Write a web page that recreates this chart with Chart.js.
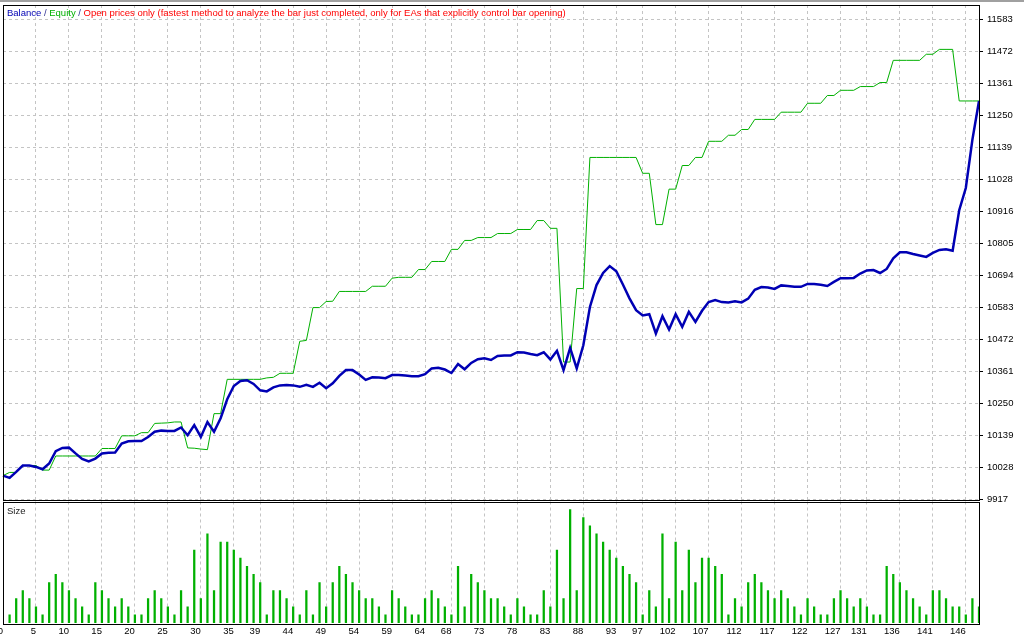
<!DOCTYPE html>
<html>
<head>
<meta charset="utf-8">
<script src="https://cdn.jsdelivr.net/npm/chart.js@4.4.1/dist/chart.umd.min.js"></script>
<style>
html,body{margin:0;padding:0;background:#fff;overflow:hidden}
#wrap{position:relative;width:1024px;height:640px}
#topbar{position:absolute;left:0;top:0;width:1024px;height:2px;background:#a0a0a0}
#main{position:absolute;left:0;top:0}
#size{position:absolute;left:0;top:495px}
</style>
</head>
<body>
<div id="wrap">
  <div id="topbar"></div>
  <canvas id="main" width="1024" height="510"></canvas>
  <canvas id="size" width="1024" height="145"></canvas>
</div>
<script>
// trade numbers on the x axis
const tradeNo = [0,1,2,3,4,5,6,7,8,9,10,11,12,13,14,15,16,17,18,19,20,21,22,23,24,25,26,27,28,29,30,31,32,33,34,35,36,37,38,39,40,41,42,43,44,45,46,47,48,49,50,51,52,53,54,55,56,57,58,59,60,61,62,63,64,65,66,67,68,69,70,71,72,73,74,75,76,77,78,79,80,81,82,83,84,85,86,87,88,89,90,91,92,93,94,95,96,97,98,99,100,101,102,103,104,105,106,107,108,109,110,111,112,113,114,115,116,117,118,119,120,121,122,123,124,125,126,127,128,129,130,131,132,133,134,135,136,137,138,139,140,141,142,143,144,145,146,147,148];

const balance = [
  10000, 9992, 10013, 10035, 10035, 10030, 10022, 10042, 10085, 10096,
  10097, 10077, 10058, 10049, 10059, 10077, 10079, 10080, 10111, 10119,
  10120, 10120, 10134, 10152, 10156, 10155, 10155, 10167, 10140, 10175,
  10134, 10186, 10152, 10199, 10265, 10311, 10328, 10331, 10318, 10296,
  10292, 10306, 10313, 10314, 10313, 10308, 10315, 10308, 10322, 10303,
  10320, 10346, 10366, 10366, 10351, 10332, 10341, 10340, 10338, 10349,
  10349, 10347, 10345, 10345, 10352, 10372, 10374, 10368, 10356, 10387,
  10369, 10391, 10404, 10407, 10401, 10415, 10417, 10417, 10428, 10427,
  10422, 10418, 10428, 10403, 10433, 10366, 10443, 10372, 10452, 10585,
  10661, 10703, 10727, 10709, 10663, 10615, 10574, 10556, 10560, 10493,
  10553, 10507, 10560, 10516, 10568, 10533, 10572, 10602, 10609, 10602,
  10601, 10605, 10601, 10614, 10645, 10654, 10653, 10648, 10660, 10658,
  10655, 10655, 10665, 10665, 10662, 10658, 10672, 10685, 10685, 10686,
  10701, 10712, 10713, 10703, 10717, 10754, 10775, 10775, 10769, 10764,
  10759, 10773, 10783, 10785, 10780, 10921, 10998, 11166, 11300
];

const equity = [
  10000, 10011, 10011, 10035, 10035, 10035, 10019, 10019, 10068, 10068,
  10068, 10068, 10068, 10068, 10068, 10094, 10094, 10094, 10138, 10138,
  10138, 10149, 10149, 10181, 10182, 10183, 10186, 10186, 10096, 10095,
  10092, 10090, 10215, 10215, 10334, 10334, 10334, 10334, 10334, 10334,
  10339, 10341, 10355, 10355, 10355, 10466, 10469, 10583, 10583, 10604,
  10605, 10639, 10639, 10639, 10639, 10639, 10657, 10657, 10657, 10685,
  10688, 10688, 10688, 10715, 10715, 10743, 10743, 10743, 10785, 10785,
  10816, 10816, 10826, 10826, 10826, 10840, 10840, 10840, 10854, 10854,
  10854, 10885, 10885, 10858, 10858, 10394, 10394, 10649, 10649, 11104,
  11104, 11104, 11104, 11104, 11104, 11104, 11104, 11049, 11049, 10871,
  10871, 10994, 10994, 11076, 11076, 11104, 11104, 11160, 11160, 11160,
  11181, 11181, 11201, 11201, 11236, 11236, 11236, 11236, 11261, 11261,
  11261, 11261, 11292, 11292, 11292, 11319, 11319, 11337, 11337, 11337,
  11350, 11350, 11350, 11364, 11364, 11441, 11441, 11441, 11441, 11441,
  11462, 11462, 11479, 11479, 11479, 11300, 11300, 11300, 11300
];

// lot size of trades 1..148
const sizes = [
  0.01,0.03,0.04,0.03,0.02,0.01,0.05,0.06,0.05,0.04,
  0.03,0.02,0.01,0.05,0.04,0.03,0.02,0.03,0.02,0.01,
  0.01,0.03,0.04,0.03,0.02,0.01,0.04,0.02,0.09,0.03,
  0.11,0.04,0.10,0.10,0.09,0.08,0.07,0.06,0.05,0.01,
  0.04,0.04,0.03,0.02,0.01,0.04,0.01,0.05,0.02,0.05,
  0.07,0.06,0.05,0.04,0.03,0.03,0.02,0.01,0.04,0.03,
  0.02,0.01,0.01,0.03,0.04,0.03,0.02,0.01,0.07,0.02,
  0.06,0.05,0.04,0.03,0.03,0.02,0.01,0.03,0.02,0.01,
  0.01,0.04,0.02,0.09,0.03,0.14,0.04,0.13,0.12,0.11,
  0.10,0.09,0.08,0.07,0.06,0.05,0.01,0.04,0.02,0.11,
  0.03,0.10,0.04,0.09,0.05,0.08,0.08,0.07,0.06,0.01,
  0.03,0.02,0.05,0.06,0.05,0.04,0.03,0.04,0.03,0.02,
  0.01,0.03,0.02,0.01,0.01,0.03,0.04,0.03,0.02,0.03,
  0.02,0.01,0.01,0.07,0.06,0.05,0.04,0.03,0.02,0.01,
  0.04,0.04,0.03,0.02,0.02,0.01,0.03,0.02
];

const xTicks = [0,5,10,15,20,25,30,35,39,44,49,54,59,64,68,73,78,83,88,93,97,102,107,112,117,122,127,131,136,141,146];
const yTicks = [9917,10028,10139,10250,10361,10472,10583,10694,10805,10916,11028,11139,11250,11361,11472,11583];

const headParts = ['Balance', ' / ', 'Equity', ' / ', 'Open prices only (fastest method to analyze the bar just completed, only for EAs that explicitly control bar opening)'];
const headColors = ['#0000b4', '#303090', '#00b000', '#303090', '#ff0000'];

const BLUE = '#0000b4', GREEN = '#00b000', GRID = '#c4c4c4';
const FAMILY = '"Liberation Sans", Arial, sans-serif';
const FONT = {family: FAMILY, size: 9.5};

// black box round the plot area, like the tester window
const frame = {
  id: 'frame',
  afterDraw(c) {
    const a = c.chartArea, ctx = c.ctx;
    ctx.save();
    ctx.strokeStyle = '#000'; ctx.lineWidth = 1;
    ctx.strokeRect(Math.round(a.left) + 0.5, Math.round(a.top) + 0.5, Math.round(a.right - a.left), Math.round(a.bottom - a.top));
    ctx.restore();
  }
};

// coloured caption in the top-left corner of the plot
const caption = {
  id: 'caption',
  afterDraw(c, args, o) {
    const a = c.chartArea, ctx = c.ctx;
    ctx.save();
    ctx.font = o.size + 'px ' + FAMILY;
    ctx.textBaseline = 'middle';
    let x = a.left + o.dx;
    o.parts.forEach((t, i) => {
      ctx.fillStyle = o.colors[i];
      ctx.fillText(t, x, a.top + o.dy);
      x += ctx.measureText(t).width;
    });
    ctx.restore();
  }
};

const setX = s => { s.ticks = xTicks.map(v => ({value: v})); };

new Chart(document.getElementById('main'), {
  type: 'line',
  data: {
    labels: tradeNo,
    datasets: [
      {label: 'Balance', data: balance, borderColor: BLUE, borderWidth: 2.5, pointRadius: 0, tension: 0},
      {label: 'Equity', data: equity, borderColor: GREEN, borderWidth: 1, pointRadius: 0, tension: 0}
    ]
  },
  options: {
    responsive: false, animation: false, events: [],
    layout: {padding: {left: 3, top: 5, right: 0, bottom: 10.5}},
    plugins: {
      tooltip: {enabled: false},
      legend: {display: false},
      caption: {parts: headParts, colors: headColors, size: 9.5, dx: 4, dy: 8.5}
    },
    scales: {
      x: {
        offset: false,
        grid: {color: GRID, drawTicks: false},
        border: {display: false, dash: [3, 3]},
        ticks: {display: false, autoSkip: false},
        afterBuildTicks: setX,
        afterFit: s => { s.height = 0; s.paddingLeft = 0; s.paddingRight = 0; }
      },
      y: {
        position: 'right', min: 9917, max: 11633,
        afterBuildTicks: s => { s.ticks = yTicks.map(v => ({value: v})); },
        grid: {color: GRID, tickColor: '#000', tickLength: 4, tickBorderDash: []},
        border: {display: false, dash: [3, 3]},
        ticks: {color: '#000', padding: 4, font: FONT, autoSkip: false, callback: v => String(v)},
        afterFit: s => { s.width = 45; s.paddingTop = 0; s.paddingBottom = 0; }
      }
    }
  },
  plugins: [frame, caption]
});

new Chart(document.getElementById('size'), {
  type: 'bar',
  data: {
    labels: tradeNo,
    datasets: [{label: 'Size', data: [null].concat(sizes), backgroundColor: GREEN, borderWidth: 0, barThickness: 1.6}]
  },
  options: {
    responsive: false, animation: false, events: [],
    layout: {padding: {left: 3, top: 6.5, right: 45, bottom: 0}},
    plugins: {
      tooltip: {enabled: false},
      legend: {display: false},
      caption: {parts: ['Size'], colors: ['#202020'], size: 9.5, dx: 4, dy: 9.5}
    },
    scales: {
      x: {
        offset: false,
        grid: {color: GRID, drawTicks: false, offset: false},
        border: {display: false, dash: [3, 3]},
        ticks: {color: '#000', align: 'end', padding: 3, autoSkip: false, maxRotation: 0, font: FONT},
        afterBuildTicks: setX,
        afterFit: s => { s.height = 17; s.paddingLeft = 0; s.paddingRight = 0; }
      },
      y: {display: false, min: 0, max: 0.15}
    }
  },
  plugins: [frame, caption]
});
</script>
</body>
</html>
